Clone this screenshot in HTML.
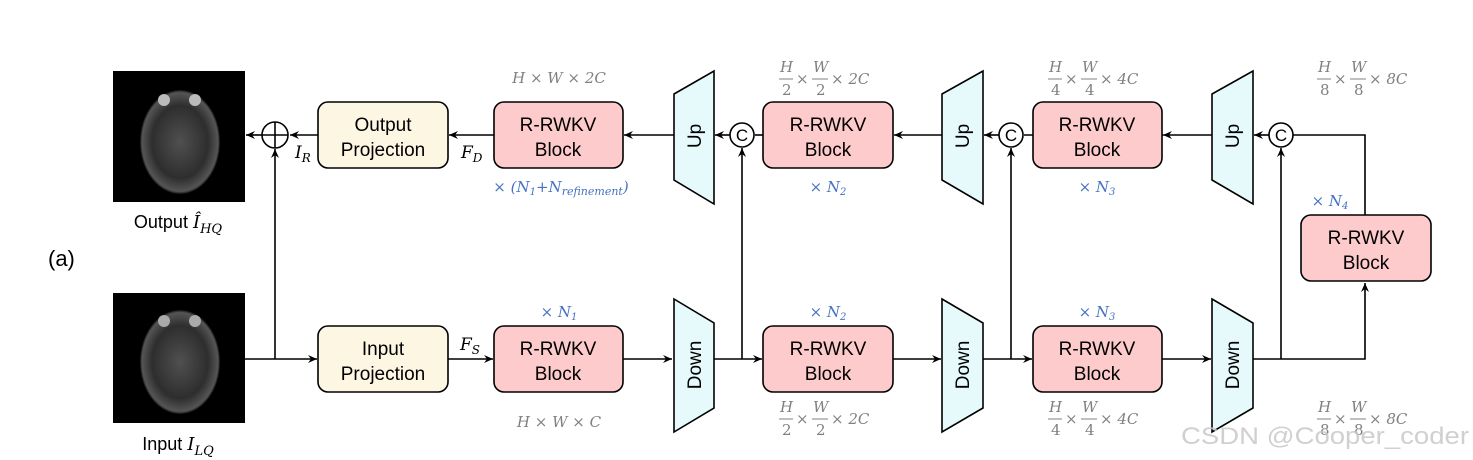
<!DOCTYPE html>
<html><head><meta charset="utf-8"><style>
body{margin:0;background:#fff}
svg{display:block}
.s{font-family:"Liberation Sans",sans-serif;font-size:19px;fill:#000;text-anchor:middle}
.g{font-family:"DejaVu Serif","Liberation Serif",serif;font-style:italic;font-size:15px;fill:#808080}
.b{font-family:"DejaVu Serif","Liberation Serif",serif;font-style:italic;font-size:15px;fill:#4472c4;text-anchor:middle}
.m{font-family:"DejaVu Serif","Liberation Serif",serif;font-style:italic;font-size:17px;fill:#000}
</style></head><body>
<svg width="1473" height="460" viewBox="0 0 1473 460" xmlns="http://www.w3.org/2000/svg">
<defs>
<marker id="a" markerWidth="10" markerHeight="8" refX="9" refY="4" orient="auto" markerUnits="userSpaceOnUse"><path d="M0,0 L9,4 L0,8 L3,4z" fill="#000"/></marker>
<radialGradient id="br" cx="50%" cy="50%" r="50%"><stop offset="0" stop-color="#505050"/><stop offset="0.7" stop-color="#2e2e2e"/><stop offset="0.95" stop-color="#555"/><stop offset="1" stop-color="#111"/></radialGradient>
</defs>
<rect width="1473" height="460" fill="#fff"/>
<!-- images -->
<rect x="113" y="71" width="132" height="131" fill="#000"/>
<ellipse cx="180" cy="142" rx="40" ry="52" fill="url(#br)"/>
<circle cx="164" cy="100" r="6" fill="#bbb"/><circle cx="195" cy="100" r="6" fill="#bbb"/>
<rect x="113" y="293" width="132" height="130" fill="#000"/>
<ellipse cx="180" cy="362" rx="40" ry="52" fill="url(#br)"/>
<circle cx="164" cy="321" r="6" fill="#aaa"/><circle cx="195" cy="321" r="6" fill="#aaa"/>
<text class="s" x="178" y="228" style="font-size:18px">Output <tspan style="font-family:'DejaVu Serif',serif;font-style:italic">Î</tspan><tspan style="font-family:'DejaVu Serif',serif;font-style:italic;font-size:13px" dy="5">HQ</tspan></text>
<text class="s" x="178" y="450" style="font-size:18px">Input <tspan style="font-family:'DejaVu Serif',serif;font-style:italic">I</tspan><tspan style="font-family:'DejaVu Serif',serif;font-style:italic;font-size:13px" dy="5">LQ</tspan></text>
<text x="48" y="266" style="font-family:'Liberation Sans',sans-serif;font-size:22px">(a)</text>

<g stroke="#000" stroke-width="1.6" fill="none">
<line x1="318" y1="135" x2="290" y2="135" marker-end="url(#a)"/>
<line x1="262" y1="135" x2="246" y2="135" marker-end="url(#a)"/>
<circle cx="275" cy="135" r="13"/><line x1="262" y1="135" x2="288" y2="135"/><line x1="275" y1="122" x2="275" y2="148"/>
<line x1="275" y1="359" x2="275" y2="149" marker-end="url(#a)"/>
<line x1="494" y1="135" x2="449" y2="135" marker-end="url(#a)"/>
<line x1="674" y1="135" x2="624" y2="135" marker-end="url(#a)"/>
<line x1="730" y1="135" x2="715" y2="135" marker-end="url(#a)"/>
<line x1="763" y1="135" x2="755" y2="135"/>
<line x1="942" y1="135" x2="894" y2="135" marker-end="url(#a)"/>
<line x1="999" y1="135" x2="984" y2="135" marker-end="url(#a)"/>
<line x1="1163" y1="135" x2="1024" y2="135"/>
<line x1="1212" y1="135" x2="1163" y2="135" marker-end="url(#a)"/>
<line x1="1269" y1="135" x2="1254" y2="135" marker-end="url(#a)"/>
<polyline points="1293,135 1365,135 1365,215"/>
<line x1="742" y1="359" x2="742" y2="148" marker-end="url(#a)"/>
<line x1="1011" y1="359" x2="1011" y2="148" marker-end="url(#a)"/>
<line x1="1281" y1="359" x2="1281" y2="148" marker-end="url(#a)"/>
<line x1="245" y1="359" x2="317" y2="359" marker-end="url(#a)"/>
<line x1="448" y1="359" x2="493" y2="359" marker-end="url(#a)"/>
<line x1="623" y1="359" x2="672" y2="359" marker-end="url(#a)"/>
<line x1="714" y1="359" x2="762" y2="359" marker-end="url(#a)"/>
<line x1="893" y1="359" x2="941" y2="359" marker-end="url(#a)"/>
<line x1="983" y1="359" x2="1032" y2="359" marker-end="url(#a)"/>
<line x1="1162" y1="359" x2="1211" y2="359" marker-end="url(#a)"/>
<polyline points="1253,359 1365,359 1365,283" marker-end="url(#a)"/>
</g>
<g stroke="#000" stroke-width="1.6" fill="#fff">
<circle cx="742" cy="135" r="12"/><circle cx="1011" cy="135" r="12"/><circle cx="1281" cy="135" r="12"/>
</g>
<g class="s" style="font-size:17px"><text x="742" y="141">C</text><text x="1011" y="141">C</text><text x="1281" y="141">C</text></g>

<g stroke="#000" stroke-width="1.6" fill="#fdf6e3">
<rect x="318" y="102" width="130" height="66" rx="10"/>
<rect x="318" y="326" width="130" height="66" rx="10"/>
</g>
<text class="s" x="383" y="131">Output</text><text class="s" x="383" y="156">Projection</text>
<text class="s" x="383" y="355">Input</text><text class="s" x="383" y="380">Projection</text>
<g stroke="#000" stroke-width="1.6" fill="#fdcbcb">
<rect x="494" y="102" width="129" height="66" rx="10"/>
<rect x="494" y="326" width="129" height="66" rx="10"/>
<rect x="763" y="102" width="130" height="66" rx="10"/>
<rect x="763" y="326" width="130" height="66" rx="10"/>
<rect x="1033" y="102" width="129" height="66" rx="10"/>
<rect x="1033" y="326" width="129" height="66" rx="10"/>
<rect x="1301" y="215" width="130" height="66" rx="10"/>
</g>
<g class="s">
<text x="558" y="131">R-RWKV</text><text x="558" y="156">Block</text>
<text x="558" y="355">R-RWKV</text><text x="558" y="380">Block</text>
<text x="828" y="131">R-RWKV</text><text x="828" y="156">Block</text>
<text x="828" y="355">R-RWKV</text><text x="828" y="380">Block</text>
<text x="1097" y="131">R-RWKV</text><text x="1097" y="156">Block</text>
<text x="1097" y="355">R-RWKV</text><text x="1097" y="380">Block</text>
<text x="1366" y="244">R-RWKV</text><text x="1366" y="269">Block</text>
</g>
<g stroke="#000" stroke-width="1.6" fill="#e6fafc">
<polygon points="674,94 714,71 714,204 674,180"/>
<polygon points="942,94 983,71 983,204 942,180"/>
<polygon points="1212,94 1253,71 1253,204 1212,180"/>
<polygon points="674,299 714,323 714,408 674,432"/>
<polygon points="942,299 983,323 983,408 942,432"/>
<polygon points="1212,299 1253,323 1253,408 1212,432"/>
</g>
<g class="s">
<text transform="translate(701,136) rotate(-90)">Up</text>
<text transform="translate(969,136) rotate(-90)">Up</text>
<text transform="translate(1239,136) rotate(-90)">Up</text>
<text transform="translate(701,365) rotate(-90)">Down</text>
<text transform="translate(969,365) rotate(-90)">Down</text>
<text transform="translate(1239,365) rotate(-90)">Down</text>
</g>
<text class="m" x="295" y="158">I<tspan font-size="12" dy="4">R</tspan></text>
<text class="m" x="461" y="158">F<tspan font-size="12" dy="4">D</tspan></text>
<text class="m" x="460" y="350">F<tspan font-size="12" dy="4">S</tspan></text>
<text class="g" x="559" y="83" text-anchor="middle">H × W × 2C</text>
<text class="g" x="559" y="427" text-anchor="middle">H × W × C</text>
<text class="b" x="561" y="192">× (N<tspan font-size="10" dy="3">1</tspan><tspan dy="-3">+N</tspan><tspan font-size="11" dy="3">refinement</tspan><tspan dy="-3">)</tspan></text>
<text class="b" x="559" y="317">× N<tspan font-size="10" dy="3">1</tspan></text>
<text class="b" x="828" y="192">× N<tspan font-size="10" dy="3">2</tspan></text>
<text class="b" x="828" y="317">× N<tspan font-size="10" dy="3">2</tspan></text>
<text class="b" x="1097" y="192">× N<tspan font-size="10" dy="3">3</tspan></text>
<text class="b" x="1097" y="317">× N<tspan font-size="10" dy="3">3</tspan></text>
<text class="b" x="1330" y="206">× N<tspan font-size="10" dy="3">4</tspan></text>
<g class="g" style="font-size:15px">
<g transform="translate(779,72)"><text x="1" y="0">H</text><text x="3" y="23" font-style="normal">2</text><line x1="0" y1="7" x2="14" y2="7" stroke="#808080"/><text x="17" y="12">×</text><text x="34" y="0">W</text><text x="37" y="23" font-style="normal">2</text><line x1="33" y1="7" x2="49" y2="7" stroke="#808080"/><text x="52" y="12">× 2C</text></g>
<g transform="translate(779,412)"><text x="1" y="0">H</text><text x="3" y="23" font-style="normal">2</text><line x1="0" y1="7" x2="14" y2="7" stroke="#808080"/><text x="17" y="12">×</text><text x="34" y="0">W</text><text x="37" y="23" font-style="normal">2</text><line x1="33" y1="7" x2="49" y2="7" stroke="#808080"/><text x="52" y="12">× 2C</text></g>
<g transform="translate(1048,72)"><text x="1" y="0">H</text><text x="3" y="23" font-style="normal">4</text><line x1="0" y1="7" x2="14" y2="7" stroke="#808080"/><text x="17" y="12">×</text><text x="34" y="0">W</text><text x="37" y="23" font-style="normal">4</text><line x1="33" y1="7" x2="49" y2="7" stroke="#808080"/><text x="52" y="12">× 4C</text></g>
<g transform="translate(1048,412)"><text x="1" y="0">H</text><text x="3" y="23" font-style="normal">4</text><line x1="0" y1="7" x2="14" y2="7" stroke="#808080"/><text x="17" y="12">×</text><text x="34" y="0">W</text><text x="37" y="23" font-style="normal">4</text><line x1="33" y1="7" x2="49" y2="7" stroke="#808080"/><text x="52" y="12">× 4C</text></g>
<g transform="translate(1317,72)"><text x="1" y="0">H</text><text x="3" y="23" font-style="normal">8</text><line x1="0" y1="7" x2="14" y2="7" stroke="#808080"/><text x="17" y="12">×</text><text x="34" y="0">W</text><text x="37" y="23" font-style="normal">8</text><line x1="33" y1="7" x2="49" y2="7" stroke="#808080"/><text x="52" y="12">× 8C</text></g>
<g transform="translate(1317,412)"><text x="1" y="0">H</text><text x="3" y="23" font-style="normal">8</text><line x1="0" y1="7" x2="14" y2="7" stroke="#808080"/><text x="17" y="12">×</text><text x="34" y="0">W</text><text x="37" y="23" font-style="normal">8</text><line x1="33" y1="7" x2="49" y2="7" stroke="#808080"/><text x="52" y="12">× 8C</text></g>
</g>
<text x="1181" y="444" textLength="288" lengthAdjust="spacingAndGlyphs" style="font-family:'Liberation Sans',sans-serif;font-size:24px;fill:#c8c8c8;fill-opacity:0.85">CSDN @Cooper_coder</text>
</svg>
</body></html>
